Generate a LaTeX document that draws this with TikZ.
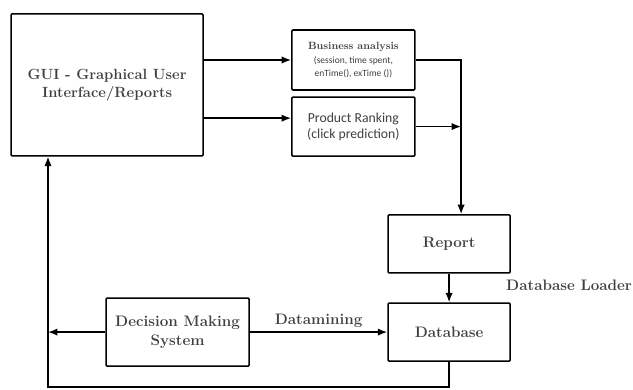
\documentclass[tikz,border=0pt]{standalone}
\usepackage{fontspec}
\newfontfamily\calibri{Carlito}
\usetikzlibrary{arrows.meta}
\tikzset{
  caja/.style={draw, line width=1.5pt, rounded corners=1pt, align=center, text=black!75, font=\bfseries},
  flecha/.style={-{Latex[length=9pt,width=7pt]}, line width=1.4pt},
}
\begin{document}
\begin{tikzpicture}
    \useasboundingbox (0,0) rectangle (21.1,13);
    % Cajas
    \node[caja, minimum width=6.4cm, minimum height=4.73cm, font=\bfseries\fontsize{14}{17}\selectfont] (gui) at (3.57,10.17) {GUI - Graphical User\\Interface/Reports};
    \node[caja, minimum width=4.1cm, minimum height=2cm] (ba) at (11.78,11) {Business analysis\\[1pt]{\calibri\mdseries\small (session, time spent,}\\{\calibri\mdseries\small enTime(), exTime ())}};
    \node[caja, minimum width=4.1cm, minimum height=1.97cm, font=\calibri\fontsize{13}{15}\selectfont] (pr) at (11.78,8.78) {Product Ranking\\(click prediction)};
    \node[caja, minimum width=4.07cm, minimum height=1.93cm, font=\bfseries\Large] (report) at (14.97,4.87) {Report};
    \node[caja, minimum width=4.07cm, minimum height=1.93cm, font=\bfseries\Large] (db) at (14.97,1.93) {Database};
    \node[caja, minimum width=4.77cm, minimum height=2.27cm, font=\bfseries\Large] (dms) at (5.92,1.93) {Decision Making\\System};
    \node[text=black!75, font=\bfseries\Large] (loader) at (18.97,3.5) {Database Loader};
    % Puntos de quiebre
    \coordinate (une) at (15.37,11);
    \coordinate (abajo) at (1.6,0.1);
    % Flechas
    \draw[flecha] (gui.east |- ba.west) -- (ba.west);
    \draw[flecha] ([yshift=8pt]gui.east |- pr.west) -- ([yshift=8pt]pr.west);
    \draw[flecha] (ba.east) -- (ba.east -| une) -- (une |- report.north);
    \draw[flecha] (pr.east) -- (pr.east -| une);
    \draw[flecha] (report) -- (db);
    \draw[flecha] (dms) -- node[above, text=black!75, font=\bfseries\Large] {Datamining} (db);
    \draw[flecha] (dms.west) -- (dms.west -| abajo);
    \draw[flecha] (db.south) -- (db.south |- abajo) -- (abajo) -- (abajo |- gui.south);
\end{tikzpicture}
\end{document}
